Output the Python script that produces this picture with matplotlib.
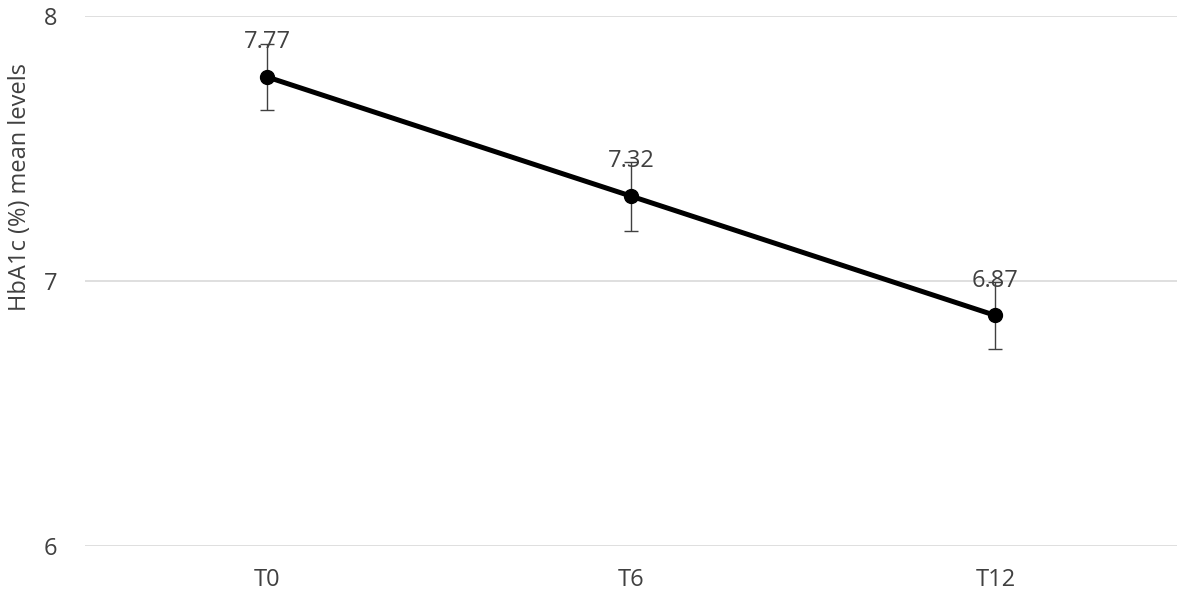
import matplotlib
matplotlib.use('Agg')
import matplotlib.pyplot as plt

# data
periods = ['T0', 'T6', 'T12']
hba1c_mean = [7.77, 7.32, 6.87]
hba1c_err = [0.125, 0.13, 0.125]

plt.rcParams['font.family'] = ['Open Sans', 'DejaVu Sans']

fig = plt.figure(figsize=(11.81, 5.97), dpi=100)
ax = fig.add_axes([0.072, 0.0854, 0.925, 0.8878])

x = [i + 0.5 for i in range(len(periods))]
ax.errorbar(x, hba1c_mean, yerr=hba1c_err, fmt='none', ecolor='#404040',
            elinewidth=1.0, capsize=5, capthick=1.0, zorder=2)
ax.plot(x, hba1c_mean, color='black', linewidth=3.6, marker='o',
        markersize=10, zorder=3)

for xi, v in zip(x, hba1c_mean):
    ax.annotate(f'{v:.2f}', (xi, v), xytext=(0, 25), textcoords='offset points',
                ha='center', va='center', fontsize=17, color='#404040')

ax.set_xlim(0, 3)
ax.set_ylim(6, 8)
ax.set_yticks([6, 7, 8])
ax.set_xticks(x)
ax.set_xticklabels(periods)
ax.yaxis.grid(True, color='#d9d9d9', linewidth=1.2)
ax.set_axisbelow(True)
for s in ax.spines.values():
    s.set_visible(False)
ax.tick_params(length=0, labelsize=17, colors='#404040')
ax.tick_params(axis='y', pad=20)
ax.tick_params(axis='x', pad=16)
ax.set_ylabel('HbA1c (%) mean levels', fontsize=17, color='#404040', va='center')
ax.yaxis.set_label_coords(-0.0595, 0.677)

fig.savefig('out.png', dpi=100)
